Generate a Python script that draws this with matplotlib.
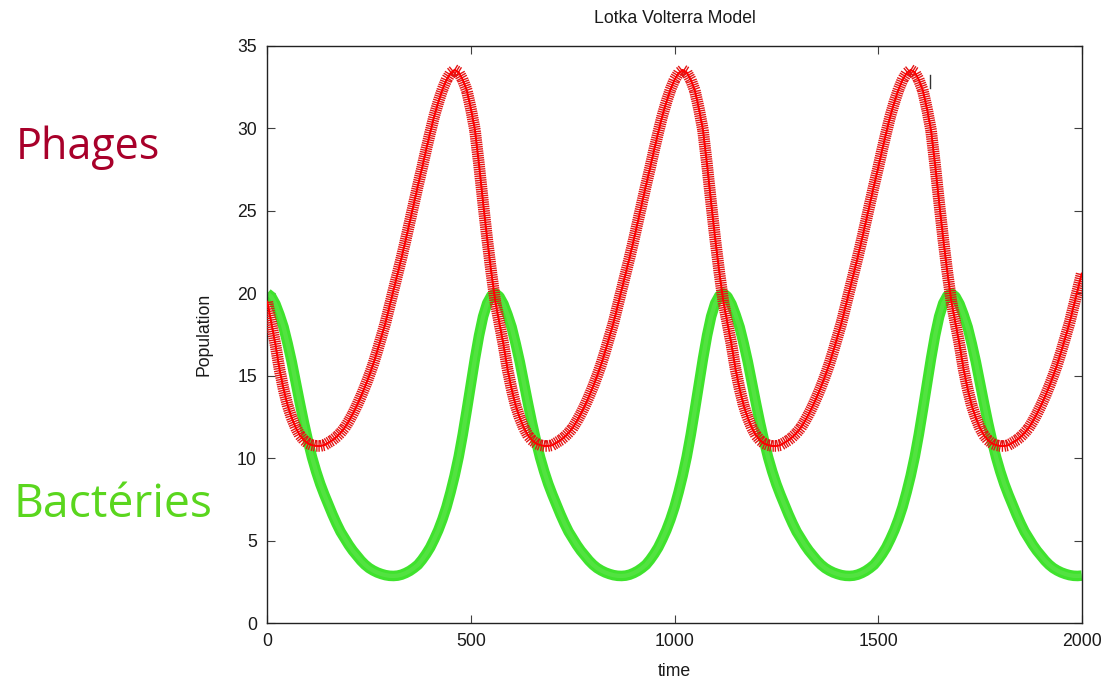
import numpy as np
import matplotlib
matplotlib.use("Agg")
import matplotlib.pyplot as plt
import matplotlib.patheffects as pe
from matplotlib.lines import Line2D

# sample times (every 10 time units)
time = np.arange(0, 2001, 10)

# values (red "+" series)
phages = [
    19.5, 18.2, 16.9, 15.4, 14.2, 13.2, 12.45, 11.85, 11.4, 11.1,
    10.9, 10.8, 10.75, 10.75, 10.8, 10.95, 11.1, 11.3, 11.55, 11.85,
    12.25, 12.7, 13.2, 13.75, 14.35, 15.0, 15.7, 16.5, 17.35, 18.2,
    19.2, 20.2, 21.2, 22.2, 23.25, 24.35, 25.45, 26.55, 27.6, 28.7,
    29.75, 30.75, 31.6, 32.35, 32.95, 33.35, 33.55, 33.4, 32.95, 32.3,
    31.2, 29.9, 27.8, 25.5, 23.3, 21.3,
    19.5, 18.2, 16.9, 15.4, 14.2, 13.2, 12.45, 11.85, 11.4, 11.1,
    10.9, 10.8, 10.75, 10.75, 10.8, 10.95, 11.1, 11.3, 11.55, 11.85,
    12.25, 12.7, 13.2, 13.75, 14.35, 15.0, 15.7, 16.5, 17.35, 18.2,
    19.2, 20.2, 21.2, 22.2, 23.25, 24.35, 25.45, 26.55, 27.6, 28.7,
    29.75, 30.75, 31.6, 32.35, 32.95, 33.35, 33.55, 33.4, 32.95, 32.3,
    31.2, 29.9, 27.8, 25.5, 23.3, 21.3,
    19.5, 18.2, 16.9, 15.4, 14.2, 13.2, 12.45, 11.85, 11.4, 11.1,
    10.9, 10.8, 10.75, 10.75, 10.8, 10.95, 11.1, 11.3, 11.55, 11.85,
    12.25, 12.7, 13.2, 13.75, 14.35, 15.0, 15.7, 16.5, 17.35, 18.2,
    19.2, 20.2, 21.2, 22.2, 23.25, 24.35, 25.45, 26.55, 27.6, 28.7,
    29.75, 30.75, 31.6, 32.35, 32.95, 33.35, 33.55, 33.4, 32.95, 32.3,
    31.2, 29.9, 27.8, 25.5, 23.3, 21.3,
    19.5, 18.2, 16.9, 15.4, 14.2, 13.2, 12.45, 11.85, 11.4, 11.1,
    10.9, 10.8, 10.75, 10.75, 10.8, 10.95, 11.1, 11.3, 11.55, 11.85,
    12.25, 12.7, 13.2, 13.75, 14.35, 15.0, 15.7, 16.5, 17.35, 18.2,
    19.2, 20.2, 21.2,
]

# values (green "x" series)
bacteries = [
    20.0, 19.8, 19.35, 18.7, 17.95, 16.95, 15.85, 14.6, 13.35, 12.15,
    11.05, 10.05, 9.2, 8.45, 7.8, 7.2, 6.6, 6.05, 5.55, 5.15,
    4.75, 4.4, 4.1, 3.8, 3.55, 3.35, 3.2, 3.08, 2.99, 2.92,
    2.88, 2.87, 2.89, 2.95, 3.05, 3.18, 3.35, 3.55, 3.85, 4.2,
    4.6, 5.1, 5.65, 6.3, 7.05, 7.95, 8.95, 10.1, 11.45, 12.95,
    14.5, 16.05, 17.45, 18.6, 19.4, 19.85,
    20.0, 19.8, 19.35, 18.7, 17.95, 16.95, 15.85, 14.6, 13.35, 12.15,
    11.05, 10.05, 9.2, 8.45, 7.8, 7.2, 6.6, 6.05, 5.55, 5.15,
    4.75, 4.4, 4.1, 3.8, 3.55, 3.35, 3.2, 3.08, 2.99, 2.92,
    2.88, 2.87, 2.89, 2.95, 3.05, 3.18, 3.35, 3.55, 3.85, 4.2,
    4.6, 5.1, 5.65, 6.3, 7.05, 7.95, 8.95, 10.1, 11.45, 12.95,
    14.5, 16.05, 17.45, 18.6, 19.4, 19.85,
    20.0, 19.8, 19.35, 18.7, 17.95, 16.95, 15.85, 14.6, 13.35, 12.15,
    11.05, 10.05, 9.2, 8.45, 7.8, 7.2, 6.6, 6.05, 5.55, 5.15,
    4.75, 4.4, 4.1, 3.8, 3.55, 3.35, 3.2, 3.08, 2.99, 2.92,
    2.88, 2.87, 2.89, 2.95, 3.05, 3.18, 3.35, 3.55, 3.85, 4.2,
    4.6, 5.1, 5.65, 6.3, 7.05, 7.95, 8.95, 10.1, 11.45, 12.95,
    14.5, 16.05, 17.45, 18.6, 19.4, 19.85,
    20.0, 19.8, 19.35, 18.7, 17.95, 16.95, 15.85, 14.6, 13.35, 12.15,
    11.05, 10.05, 9.2, 8.45, 7.8, 7.2, 6.6, 6.05, 5.55, 5.15,
    4.75, 4.4, 4.1, 3.8, 3.55, 3.35, 3.2, 3.08, 2.99, 2.92,
    2.88, 2.87, 2.89,
]

x_ticks = [0, 500, 1000, 1500, 2000]
y_ticks = [0, 5, 10, 15, 20, 25, 30, 35]

W, H = 1105, 679
fig = plt.figure(figsize=(W / 100, H / 100), dpi=100)
fig.patch.set_facecolor("white")

ax = fig.add_axes([267.3 / W, 1 - 623.3 / H, (1081.7 - 267.3) / W, (623.3 - 46) / H])

# green band (bacteries)
ax.plot(time, bacteries, color="#3fe22d", lw=7.6, solid_joinstyle="round",
        solid_capstyle="butt", zorder=2)
ax.plot(time, bacteries, color="#62e250", lw=3.0, solid_joinstyle="round",
        solid_capstyle="butt", zorder=2, alpha=0.6)

# red "+" line (phages)
ticks_fx = [
    pe.TickedStroke(spacing=1.6, angle=90, length=2.3, linewidth=1.0, foreground="#e41414"),
    pe.TickedStroke(spacing=1.6, angle=-90, length=2.3, linewidth=1.0, foreground="#e41414"),
    pe.Normal(),
]
ax.plot(time, phages, color="#ff0000", lw=1.4, zorder=3, path_effects=ticks_fx)

ax.set_xlim(0, 2000)
ax.set_ylim(0, 35)
ax.set_xticks(x_ticks)
ax.set_yticks(y_ticks)

tick_font = "Liberation Sans"
ax.tick_params(axis="both", direction="in", length=6, width=0.8, color="#404040",
               top=True, right=True, labelcolor="#1a1a1a", labelsize=12.7)
ax.tick_params(axis="x", pad=7)
ax.tick_params(axis="y", pad=7.5)
for lbl in ax.get_xticklabels() + ax.get_yticklabels():
    lbl.set_family(tick_font)
for s in ax.spines.values():
    s.set_linewidth(1.0)
    s.set_color("#222222")

# small stray mark near the top right
ax.add_line(Line2D([0.8137, 0.8137], [0.927, 0.950], transform=ax.transAxes,
                   color="#333333", lw=1.0))

fig.text(674.5 / W, 1 - 23.3 / H, "Lotka Volterra Model", ha="center", va="baseline",
         fontsize=12.7, family=tick_font, color="#1a1a1a")
fig.text(674.5 / W, 1 - 676.5 / H, "time", ha="center", va="baseline",
         fontsize=12.7, family=tick_font, color="#1a1a1a")
fig.text(204 / W, 1 - 334.5 / H, "Population", ha="center", va="center", rotation=90,
         fontsize=12.7, family=tick_font, color="#1a1a1a")

fig.text(16 / W, 1 - 159.5 / H, "Phages", ha="left", va="baseline",
         fontsize=31, family="Open Sans", color="#a8002a")
fig.text(14 / W, 1 - 517 / H, "Bactéries", ha="left", va="baseline",
         fontsize=33.3, family="Open Sans", color="#5ad61e")

fig.savefig("out.png", dpi=100, facecolor="white")
